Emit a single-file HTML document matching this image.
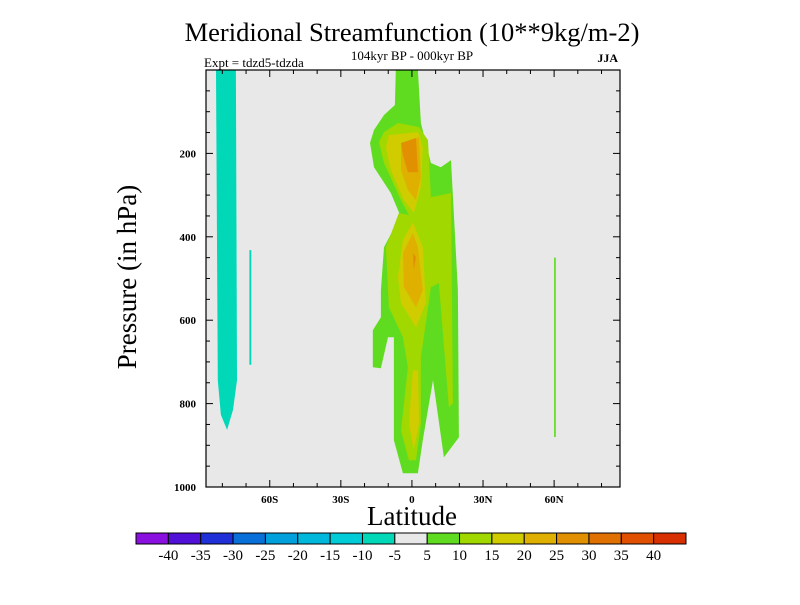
<!DOCTYPE html>
<html><head><meta charset="utf-8"><style>
body{margin:0;background:#fff;width:800px;height:600px;overflow:hidden;font-family:"Liberation Serif",serif}
</style></head><body>
<svg id="chart" width="800" height="600" xmlns="http://www.w3.org/2000/svg" font-family="Liberation Serif, serif">
<text x="412" y="41" font-size="26.5" text-anchor="middle">Meridional Streamfunction (10**9kg/m-2)</text>
<text x="412" y="60" font-size="13" text-anchor="middle">104kyr BP - 000kyr BP</text>
<text x="204" y="67" font-size="13">Expt = tdzd5-tdzda</text>
<text x="618" y="62" font-size="12" font-weight="bold" text-anchor="end">JJA</text>
<rect x="206" y="70" width="414" height="417" fill="#e8e8e8"/>
<g id="marks"></g>
<g id="axes"></g>
<text x="412" y="525" font-size="27" text-anchor="middle">Latitude</text>
<text transform="translate(136,277) rotate(-90)" font-size="27" text-anchor="middle">Pressure (in hPa)</text>
<g id="colorbar"></g>
</svg>
<script>
const levelColors=["#8a10e0","#5010d8","#2030d8","#0870d8","#00a0dc","#00b8dc","#00ccd8","#00d8b8","#e8e8e8","#60dc20","#a0d800","#d0cc00","#e0b000","#e09000","#e07000","#e05000","#d83000"];
const levelLabels=["-40","-35","-30","-25","-20","-15","-10","-5","5","10","15","20","25","30","35","40"];
const xTickValues=[-60,-30,0,30,60];
const xTickLabels=["60S","30S","0","30N","60N"];
const yTickValues=[200,400,600,800,1000];
// regions: [colour index, polygon in (latitude, pressure hPa)]
const tealBand=[[-82.7,0],[-74.3,0],[-73.8,744],[-75.5,815],[-78,863],[-80.6,827],[-81.9,744]];
const tealThin=[[-68.6,432],[-67.8,432],[-67.8,707],[-68.6,707]];
const greenThin=[[60,450],[60.7,450],[60.7,880],[60,880]];
const greenMain=[[-6.8,0],[-7.2,84],[-11.8,108],[-16,144],[-17.7,175],[-16,233],[-8.9,295],[-4.6,353],[-8,384],[-11.8,425],[-13.1,528],[-13.1,593],[-16.5,624],[-16.5,713],[-13.1,715],[-10.1,641],[-7.6,641],[-7.6,888],[-3.8,967],[2.5,967],[4.6,888],[8.9,744],[13.5,929],[19.8,881],[19.4,528],[16.5,216],[12.2,233],[8,223],[3.8,127],[2.5,0]];
const lightGreen=[[-5.5,343],[-11,425],[-9.7,569],[-3.8,641],[-1.7,713],[-4.6,864],[-1.3,936],[1.7,936],[3.8,847],[3.8,689],[8,521],[11.4,511],[15.6,809],[17.3,799],[16.5,295],[8,305],[6.8,168],[3,137],[-5.9,127],[-11.8,149],[-13.9,173],[-11.8,223],[-4.6,312],[-1.3,348]];
const yellowUpper=[[-9.7,156],[2.5,149],[4.6,185],[3.8,281],[0.8,343],[-3.4,312],[-8.9,240],[-11,185]];
const yellowLower=[[0.4,365],[4.6,425],[5.9,559],[1.7,617],[-4.6,559],[-5.9,497],[-3.8,408]];
const yellowBottom=[[0.4,720],[2.5,720],[3,847],[0.8,912],[-1.3,847]];
const goldUpper=[[-4.6,175],[3,161],[3.8,257],[1.7,312],[-1.7,288],[-4.6,240]];
const goldLower=[[0.4,391],[2.5,425],[4.6,528],[1.7,569],[-3.4,521],[-3.8,439]];
const orangeUpper=[[-4.6,175],[1.7,163],[2.5,245],[-1.7,245],[-3.8,204]];
const orangeLower=[[0.4,439],[1.7,449],[0.8,480]];
const regions=[[7,tealBand,"teal-band"],[7,tealThin,"teal-thin"],[9,greenThin,"green-thin"],[9,greenMain,"green-main"],[10,lightGreen,"lightgreen-region"],[11,yellowUpper,"yellow-upper"],[11,yellowLower,"yellow-lower"],[11,yellowBottom,"yellow-bottom"],[12,goldUpper,"gold-upper"],[12,goldLower,"gold-lower"],[13,orangeUpper,"orange-upper"],[13,orangeLower,"orange-lower"]];

const NS="http://www.w3.org/2000/svg";
const X0=206,X1=620,Y0=70,Y1=487,LATMIN=-86.9,LATMAX=87.8,PMIN=0,PMAX=1000;
function xs(lat){return X0+(lat-LATMIN)/(LATMAX-LATMIN)*(X1-X0);}
function ys(p){return Y0+(p-PMIN)/(PMAX-PMIN)*(Y1-Y0);}
function mk(tag,attrs,parent){const e=document.createElementNS(NS,tag);for(const k in attrs)e.setAttribute(k,attrs[k]);parent.appendChild(e);return e;}
const marks=document.getElementById('marks');
regions.forEach(r=>{
  const pts=r[1].map(q=>xs(q[0]).toFixed(1)+","+ys(q[1]).toFixed(1)).join(" ");
  const pg=mk('polygon',{points:pts,fill:levelColors[r[0]]},marks);
  
  
});
const axes=document.getElementById('axes');
const frame=mk('rect',{x:X0,y:Y0,width:X1-X0,height:Y1-Y0,fill:'none',stroke:'#000','stroke-width':1.2},axes);


for(let lat=-80;lat<=80;lat+=10){
  const x=xs(lat),L=(lat%30===0)?7:4;
  mk('line',{x1:x,y1:Y1,x2:x,y2:Y1-L,stroke:'#000'},axes);
  mk('line',{x1:x,y1:Y0,x2:x,y2:Y0+L,stroke:'#000'},axes);
}
for(let p=50;p<1000;p+=50){
  const y=ys(p),L=(p%200===0)?7:4;
  mk('line',{x1:X0,y1:y,x2:X0+L,y2:y,stroke:'#000'},axes);
  mk('line',{x1:X1,y1:y,x2:X1-L,y2:y,stroke:'#000'},axes);
}
xTickValues.forEach((v,i)=>{
  const t=mk('text',{x:xs(v),y:503,'font-size':11,'font-weight':'bold','text-anchor':'middle'},axes);
  t.textContent=xTickLabels[i];
  
  
});
yTickValues.forEach(v=>{
  const t=mk('text',{x:X0-10,y:ys(v)+4,'font-size':11,'font-weight':'bold','text-anchor':'end'},axes);
  t.textContent=String(v);
  
  
});
const cb=document.getElementById('colorbar');
const CB0=136,CB1=686,CBY=533,CBH=11,bw=(CB1-CB0)/levelColors.length;
levelColors.forEach((c,i)=>{
  const r=mk('rect',{x:CB0+i*bw,y:CBY,width:bw,height:CBH,fill:c,stroke:'#000','stroke-width':1},cb);
  
  
});
levelLabels.forEach((l,i)=>{
  const t=mk('text',{x:CB0+(i+1)*bw,y:560,'font-size':15,'text-anchor':'middle'},cb);
  t.textContent=l;
  
  
});
</script>
</body></html>
